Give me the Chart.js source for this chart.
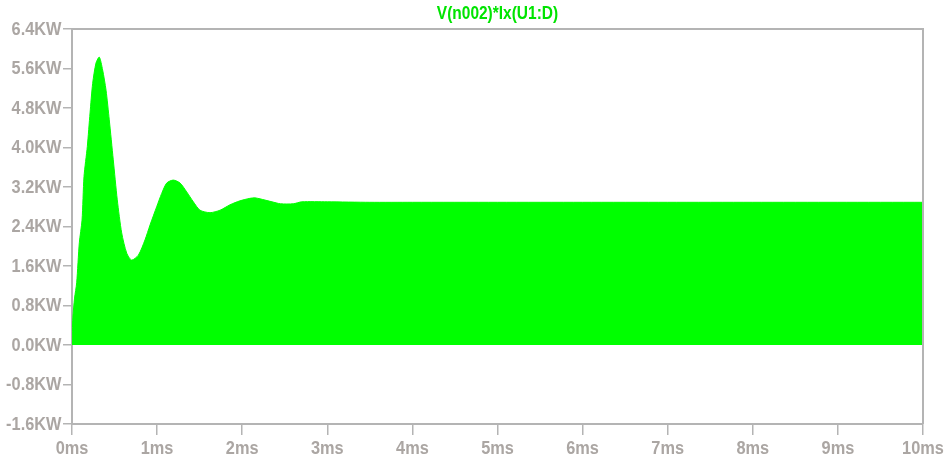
<!DOCTYPE html>
<html>
<head>
<meta charset="utf-8">
<script src="https://cdn.jsdelivr.net/npm/chart.js@4/dist/chart.umd.min.js"></script>
<style>
  html, body { margin: 0; padding: 0; background: #ffffff; }
  #wrap { width: 948px; height: 463px; position: relative; }
</style>
</head>
<body>
<div id="wrap"><canvas id="c" width="948" height="463"></canvas></div>
<script>
// Power envelope of V(n002)*Ix(U1:D): time in ms, power in kW
const timeMs = [
  0.0, 0.01, 0.03, 0.055, 0.086, 0.118, 0.141, 0.18, 0.212, 0.243,
  0.282, 0.321, 0.36, 0.40, 0.438, 0.485, 0.532, 0.584, 0.643, 0.701,
  0.78, 0.858, 0.917, 0.995, 1.054, 1.113, 1.19, 1.27, 1.348, 1.426,
  1.504, 1.622, 1.74, 1.857, 1.974, 2.09, 2.15, 2.21, 2.35, 2.45,
  2.6, 2.7, 3.0, 3.5, 4.0, 5.0, 6.0, 7.0, 8.0, 9.0, 10.0
];
const powerKW = [
  0.0, 0.55, 0.95, 1.26, 2.07, 2.53, 3.41, 4.02, 4.70, 5.30,
  5.71, 5.83, 5.57, 5.16, 4.56, 3.75, 2.94, 2.27, 1.86, 1.72,
  1.82, 2.13, 2.43, 2.80, 3.07, 3.28, 3.34, 3.28, 3.10, 2.90,
  2.73, 2.68, 2.73, 2.84, 2.92, 2.97, 2.98, 2.96, 2.90, 2.86,
  2.86, 2.90, 2.90, 2.89, 2.89, 2.89, 2.89, 2.89, 2.89, 2.89, 2.89
];

// Axis tick settings
const xTicksMs = { min: 0, max: 10, step: 1 };
const yTicksKW = { min: -1.6, max: 6.4, step: 0.8 };
const traceName = 'V(n002)*Ix(U1:D)';

const axisGray = '#b4b4b4';
const labelGray = '#aba6a3';
const traceGreen = '#00ff00';
const titleGreen = '#00e400';
const fontFamily = '"Liberation Sans", Arial, sans-serif';
const narrow = 0.86; // horizontal squeeze for the narrow label face

const xLabel = v => Math.round(v) + 'ms';
const yLabel = v => (Math.abs(v) < 1e-9 ? 0 : v).toFixed(1) + 'KW';

const points = timeMs.map((t, i) => ({ x: t, y: powerKW[i] }));

function narrowText(ctx, text, x, y, align) {
  ctx.save();
  ctx.translate(x, y);
  ctx.scale(narrow, 1);
  ctx.textAlign = align;
  ctx.textBaseline = 'middle';
  ctx.fillText(text, 0, 0);
  ctx.restore();
}

// Frame, narrow tick labels and the trace name
const framePlugin = {
  id: 'frame',
  afterDraw(chart) {
    const { ctx, chartArea: a, scales } = chart;
    ctx.save();
    ctx.strokeStyle = axisGray;
    ctx.lineWidth = 2;
    ctx.beginPath();
    ctx.moveTo(a.left, a.top);
    ctx.lineTo(a.right, a.top);
    ctx.lineTo(a.right, a.bottom);
    ctx.stroke();

    ctx.fillStyle = labelGray;
    ctx.font = `bold 19px ${fontFamily}`;
    scales.y.ticks.forEach(t => {
      narrowText(ctx, yLabel(t.value), a.left - 10.5, scales.y.getPixelForValue(t.value) + 0.5, 'right');
    });
    scales.x.ticks.forEach(t => {
      narrowText(ctx, xLabel(t.value), scales.x.getPixelForValue(t.value), a.bottom + 25, 'center');
    });

    ctx.fillStyle = titleGreen;
    ctx.font = `bold 18px ${fontFamily}`;
    narrowText(ctx, traceName, (a.left + a.right) / 2, 14, 'center');
    ctx.restore();
  }
};

new Chart(document.getElementById('c'), {
  type: 'line',
  data: {
    datasets: [{
      label: traceName,
      data: points,
      borderColor: traceGreen,
      backgroundColor: traceGreen,
      borderWidth: 1,
      pointRadius: 0,
      tension: 0.25,
      fill: 'origin'
    }]
  },
  options: {
    responsive: false,
    animation: false,
    layout: { padding: { top: 29, right: 25, left: 0, bottom: 0 } },
    plugins: { legend: { display: false }, title: { display: false }, tooltip: { enabled: false } },
    scales: {
      x: {
        type: 'linear',
        min: xTicksMs.min,
        max: xTicksMs.max,
        afterFit(s) { s.height = 39; },
        border: { display: true, color: axisGray, width: 2 },
        grid: { drawOnChartArea: false, drawTicks: true, tickLength: 11, tickColor: axisGray, lineWidth: 1.5 },
        ticks: {
          stepSize: xTicksMs.step,
          color: 'rgba(0,0,0,0)',
          font: { family: fontFamily, size: 16 },
          padding: 2,
          maxRotation: 0,
          callback: xLabel
        }
      },
      y: {
        type: 'linear',
        min: yTicksKW.min,
        max: yTicksKW.max,
        afterFit(s) { s.width = 72; },
        border: { display: true, color: axisGray, width: 2 },
        grid: { drawOnChartArea: false, drawTicks: true, tickLength: 9, tickColor: axisGray, lineWidth: 1.5 },
        ticks: {
          stepSize: yTicksKW.step,
          color: 'rgba(0,0,0,0)',
          font: { family: fontFamily, size: 16 },
          padding: 2,
          callback: yLabel
        }
      }
    }
  },
  plugins: [framePlugin]
});
</script>
</body>
</html>
